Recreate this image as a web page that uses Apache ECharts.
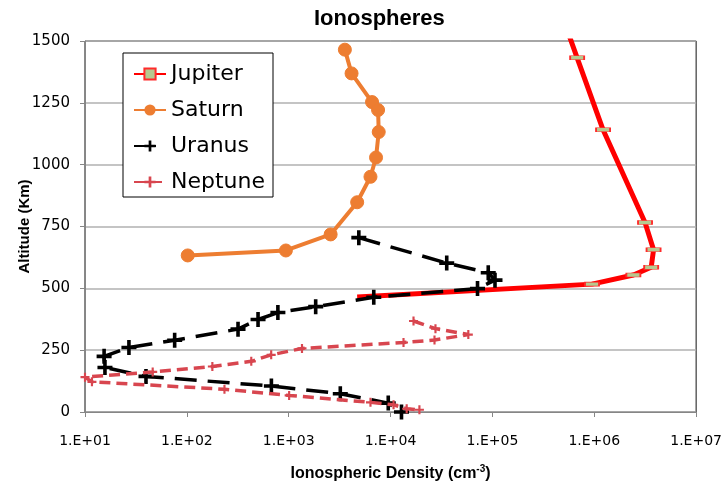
<!DOCTYPE html>
<html>
<head>
<meta charset="utf-8">
<script src="https://cdn.jsdelivr.net/npm/echarts@6/dist/echarts.min.js"></script>
<style>
  html, body { margin: 0; padding: 0; background: #ffffff; }
  #chart { width: 725px; height: 488px; }
</style>
</head>
<body>
<div id="chart"></div>
<script>
// Ionospheric electron density profiles of the giant planets (density in cm^-3, altitude in km)
const seriesNames = ['Jupiter', 'Saturn', 'Uranus', 'Neptune'];

const jupiterDensity  = [5.36e5, 6.79e5, 1.22e6, 3.15e6, 3.82e6, 3.62e6, 2.42e6, 9.5e5, 4.7e3];
const jupiterAltitude = [1550, 1432, 1141, 766, 656, 585, 554, 517, 465];

const saturnDensity  = [3.56e3, 4.14e3, 6.58e3, 7.54e3, 7.65e3, 7.20e3, 6.35e3, 4.70e3, 2.58e3, 938, 102];
const saturnAltitude = [1465, 1369, 1253, 1221, 1132, 1029, 951, 848, 718, 653, 633];

const uranusDensity  = [4.88e3, 3.56e4, 9.1e4, 1.06e5, 7.14e4, 6.84e3, 1.84e3, 783, 500, 318, 75.9, 27.0, 15.4, 15.7, 39.7, 676, 3.21e3, 9.49e3, 1.28e4];
const uranusAltitude = [705, 602, 563, 533, 499, 464, 426, 402, 374, 335, 290, 261, 225, 180, 144, 105, 74, 36, 0];

const neptuneDensity  = [1.68e4, 2.76e4, 5.80e4, 2.70e4, 1.34e4, 1.35e3, 673, 429, 178, 46.2, 10, 11.7, 234, 1.01e3, 6.35e3, 1.07e4, 1.44e4, 1.92e4];
const neptuneAltitude = [368, 337, 313, 291, 281, 257, 231, 205, 184, 162, 141, 122, 92, 67, 39, 29, 13, 9];

const altitudeTicks = [0, 250, 500, 750, 1000, 1250, 1500];
const densityRange = [1e1, 1e7];

function pairs(xs, ys) {
  return xs.map((x, i) => [x, ys[i]]);
}

const plusSymbol = 'path://M3.8,0H6.2V3.8H10V6.2H6.2V10H3.8V6.2H0V3.8H3.8Z';

const jupiterData = pairs(jupiterDensity, jupiterAltitude);
// the low-altitude end of the Jupiter profile carries no marker
jupiterData[jupiterData.length - 1] = { value: jupiterData[jupiterData.length - 1], symbol: 'none' };

const chart = echarts.init(document.getElementById('chart'), null, { renderer: 'canvas' });

chart.setOption({
  animation: false,
  backgroundColor: '#ffffff',
  title: {
    text: 'Ionospheres',
    left: 309,
    top: 3,
    textStyle: { fontFamily: 'Liberation Sans', fontWeight: 'bold', fontSize: 22, color: '#000' }
  },
  legend: {
    data: seriesNames,
    orient: 'vertical',
    left: 123,
    top: 53,
    padding: [10, 8, 4, 10],
    itemGap: 14,
    itemWidth: 32,
    itemHeight: 14,
    borderColor: '#000',
    borderWidth: 1,
    backgroundColor: '#fff',
    textStyle: { fontFamily: 'DejaVu Sans', fontSize: 22, color: '#000' }
  },
  grid: {
    left: 85,
    right: 27,
    top: 41,
    bottom: 76,
    show: true,
    borderColor: '#111',
    borderWidth: 1
  },
  xAxis: {
    type: 'log',
    logBase: 10,
    min: densityRange[0],
    max: densityRange[1],
    name: '{b|Ionospheric Density (cm}{s|-3}{b|)}',
    nameLocation: 'middle',
    nameGap: 52,
    nameTextStyle: {
      rich: {
        b: { fontFamily: 'Liberation Sans', fontWeight: 'bold', fontSize: 16, color: '#000', verticalAlign: 'bottom' },
        s: { fontFamily: 'Liberation Sans', fontWeight: 'bold', fontSize: 10, color: '#000', verticalAlign: 'top', padding: [0, 0, 8, 0] }
      }
    },
    axisLine: { show: true, lineStyle: { color: '#868686', width: 1 } },
    axisTick: { show: true, inside: false, length: 5, lineStyle: { color: '#868686' } },
    minorTick: { show: false },
    splitLine: { show: false },
    axisLabel: {
      margin: 22,
      fontFamily: 'DejaVu Sans',
      fontSize: 14,
      color: '#000',
      formatter: function (v) {
        const e = Math.round(Math.log10(v));
        return '1.E+' + (e < 10 ? '0' : '') + e;
      }
    }
  },
  yAxis: {
    type: 'value',
    min: altitudeTicks[0],
    max: altitudeTicks[altitudeTicks.length - 1],
    interval: altitudeTicks[1] - altitudeTicks[0],
    name: 'Altitude (Km)',
    nameLocation: 'middle',
    nameGap: 53,
    nameMoveOverlap: false,
    nameTextStyle: { fontFamily: 'Liberation Sans', fontWeight: 'bold', fontSize: 15, color: '#000' },
    axisLine: { show: true, lineStyle: { color: '#868686', width: 1 } },
    axisTick: { show: true, inside: false, length: 5, lineStyle: { color: '#868686' } },
    splitLine: { show: true, lineStyle: { color: '#b0b0b0', width: 1.5 } },
    axisLabel: {
      margin: 15,
      fontFamily: 'DejaVu Sans',
      fontSize: 15,
      color: '#000',
      formatter: function (v) { return String(v); }
    }
  },
  series: [
    {
      name: 'Jupiter',
      type: 'line',
      data: jupiterData,
      lineStyle: { color: '#ff0000', width: 5 },
      symbol: 'rect',
      symbolSize: [14, 4],
      symbolKeepAspect: true,
      itemStyle: { color: '#b6c98f', borderColor: '#ff2a2a', borderWidth: 1 },
      z: 2
    },
    {
      name: 'Saturn',
      type: 'line',
      data: pairs(saturnDensity, saturnAltitude),
      lineStyle: { color: '#ed7d31', width: 4 },
      symbol: 'circle',
      symbolSize: 13,
      itemStyle: { color: '#ed7d31', borderColor: '#ed7d31' },
      z: 3
    },
    {
      name: 'Uranus',
      type: 'line',
      data: pairs(uranusDensity, uranusAltitude),
      lineStyle: { color: '#000000', width: 3.5, type: [22, 11] },
      symbol: plusSymbol,
      symbolSize: 15,
      itemStyle: { color: '#000000', borderWidth: 0 },
      z: 4
    },
    {
      name: 'Neptune',
      type: 'line',
      data: pairs(neptuneDensity, neptuneAltitude),
      lineStyle: { color: '#d8464f', width: 3.5, type: [11, 6] },
      symbol: plusSymbol,
      symbolSize: 9,
      itemStyle: { color: '#d8464f', borderWidth: 0 },
      z: 5
    }
  ]
});
</script>
</body>
</html>
